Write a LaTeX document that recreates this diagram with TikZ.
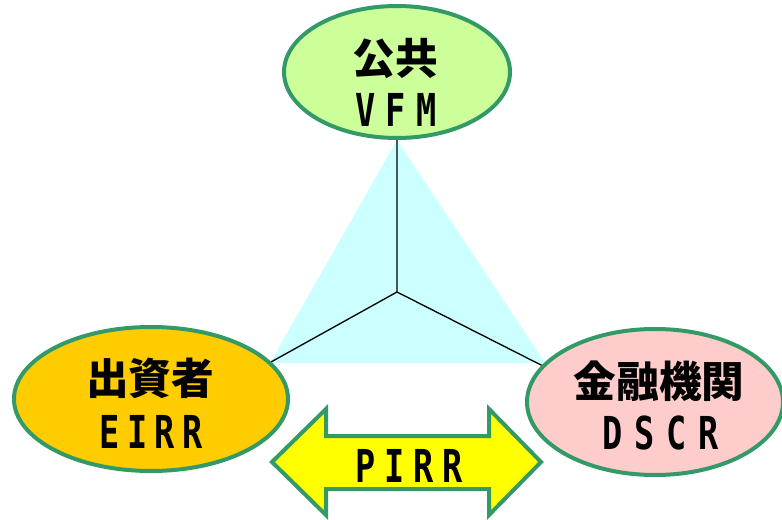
\documentclass[tikz,border=0pt]{standalone}
\usepackage{fontspec}
\newfontfamily\jpfont{Noto Sans CJK JP}
\newfontfamily\latfont{DejaVu Sans Mono}[FakeStretch=0.74]
\usetikzlibrary{shapes.geometric}
\definecolor{edgegreen}{HTML}{339966}
\definecolor{pubfill}{HTML}{CCFF99}
\definecolor{invfill}{HTML}{FFCC00}
\definecolor{bankfill}{HTML}{FFCCCC}
\definecolor{trifill}{HTML}{CCFFFF}
\definecolor{arrfill}{HTML}{FFFF00}
\begin{document}
\begin{tikzpicture}[x=0.75pt,y=-0.75pt,
  party/.style={ellipse, draw=edgegreen, line width=3pt, inner sep=0pt},
  jptext/.style={font=\jpfont\bfseries\fontsize{32}{32}\selectfont, inner sep=0pt},
  lattext/.style={font=\latfont\bfseries\fontsize{34}{34}\selectfont, inner sep=0pt}]
\useasboundingbox (0,0) rectangle (782,520);
\fill[trifill] (397,140) -- (270,363) -- (545,363) -- cycle;
\coordinate (c) at (397,292);
\coordinate (tt) at (397,140);
\coordinate (tl) at (271,362);
\coordinate (tr) at (543,366);
\draw[line width=1pt] (c) -- (tt) (c) -- (tl) (c) -- (tr);
\node[party, fill=pubfill, minimum width=169.5pt, minimum height=99pt] (pub) at (397,72) {};
\node[party, fill=invfill, minimum width=205.5pt, minimum height=108pt] (inv) at (151,399) {};
\node[party, fill=bankfill, minimum width=192pt, minimum height=109.5pt] (bank) at (655,402) {};
\draw[draw=edgegreen, fill=arrfill, line width=3pt, line join=miter]
  (272,462) -- (326,409) -- (326,436) -- (489,436) -- (489,409) -- (541,462)
  -- (489,515) -- (489,489) -- (326,489) -- (326,515) -- cycle;
\node[jptext] (pubname) at (395,59) {公共};
\node[lattext] (pubidx) at (396,110) {\addfontfeature{LetterSpace=22}VFM};
\node[jptext] (invname) at (150,378) {出資者};
\node[lattext] (invidx) at (151,432) {\addfontfeature{LetterSpace=16}EIRR};
\node[jptext] (bankname) at (659,381) {金融機関};
\node[lattext] (bankidx) at (661,433) {\addfontfeature{LetterSpace=26}DSCR};
\node[lattext] (pirr) at (409,466) {\addfontfeature{LetterSpace=19}PIRR};
\end{tikzpicture}
\end{document}
